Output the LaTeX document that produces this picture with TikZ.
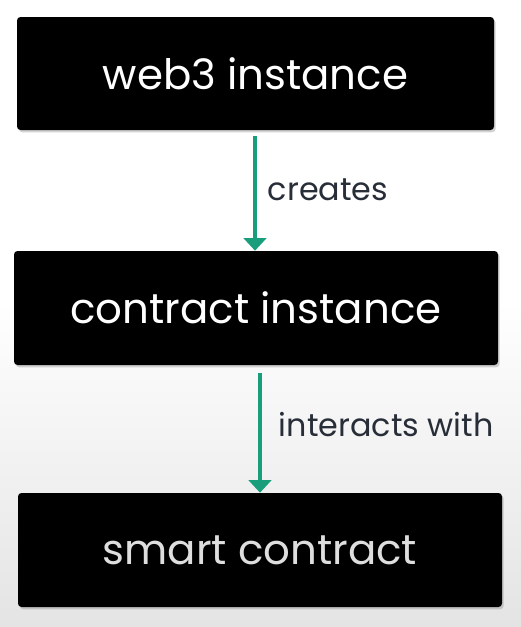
\documentclass[tikz,border=0pt]{standalone}
\usepackage{fontspec}
\setmainfont{Poppins}
\usepackage{xcolor}
\usetikzlibrary{positioning,arrows.meta,shadows}
\definecolor{cArrow}{RGB}{24,158,122}
\definecolor{cLabel}{RGB}{40,46,56}
\definecolor{cBgLow}{RGB}{228,228,228}
\definecolor{cDim}{RGB}{222,222,222}

\begin{document}
\begin{tikzpicture}[x=0.025cm,y=-0.025cm,
   stage/.style={fill=black,rounded corners=2.5pt,text=white,
     font=\fontsize{29.8}{32}\selectfont,inner sep=0pt,
     drop shadow={shadow xshift=1.2pt,shadow yshift=-1.6pt,opacity=0.35}},
   flow/.style={draw=cArrow,line width=3pt,-{Triangle[length=9pt,width=16pt]}},
   tag/.style={text=cLabel,font=\fontsize{22.6}{26}\selectfont,anchor=west}]
 % page and background fading to grey
 \useasboundingbox (0,0) rectangle (521,627);
 \fill[white] (0,0) rectangle (521,300);
 \shade[top color=white,bottom color=cBgLow] (0,300) rectangle (521,627);
 % the three stages
 \node[stage,minimum width=477*0.025cm,minimum height=113*0.025cm] (web3) at (255.5,73.5) {web3 instance};
 \node[stage,minimum width=484*0.025cm,minimum height=114*0.025cm] (contract) at (256,308) {contract instance};
 \node[stage,text=cDim,minimum width=484*0.025cm,minimum height=114*0.025cm] (smart) at (260,550) {smart contract};
 % arrows with labels
 \coordinate (a1s) at (255,136); \coordinate (a2s) at (260,373);
 \draw[flow] (a1s) -- (a1s |- contract.north);
 \draw[flow] (a2s) -- (a2s |- smart.north);
 \node[tag] (creates) at (263,190) {creates};
 \node[tag] (interacts) at (274,425) {interacts with};
\end{tikzpicture}
\end{document}
